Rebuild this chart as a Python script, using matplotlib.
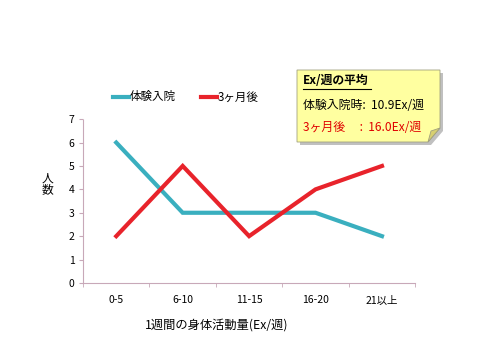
import matplotlib
matplotlib.use("Agg")
import matplotlib.pyplot as plt
from matplotlib.patches import Polygon
import numpy as np

plt.rcParams['font.family'] = ['Noto Sans CJK JP', 'DejaVu Sans']

categories = ['0-5', '6-10', '11-15', '16-20', '21以上']
taiken = [6, 3, 3, 3, 2]
after3 = [2, 5, 2, 4, 5]
series_names = ['体験入院', '3ヶ月後']
note_title = 'Ex/週の平均'
note_line1 = '体験入院時:  10.9Ex/週'
note_line2 = '3ヶ月後　 :  16.0Ex/週'

teal = '#3AAFBF'
red = '#E8232B'
axis_col = '#C8A8B8'

fig = plt.figure(figsize=(4.8, 3.6), dpi=100)
ax = fig.add_axes([0.173, 0.214, 0.692, 0.455])

x = np.arange(len(categories))
ax.plot(x, taiken, color=teal, lw=3.0, solid_joinstyle='miter')
ax.plot(x, after3, color=red, lw=3.0, solid_joinstyle='miter')

ax.set_xlim(-0.5, len(categories) - 0.5)
ax.set_ylim(0, 7)
ax.set_yticks(range(8))
ax.set_xticks(x)
ax.set_xticklabels(categories, fontsize=7.5)
ax.set_xticks(np.arange(-0.5, len(categories)), minor=True)
ax.tick_params(axis='x', which='major', length=0, pad=9)
ax.tick_params(axis='x', which='minor', length=3, color=axis_col)
ax.tick_params(axis='y', length=3, color=axis_col, labelsize=7.5, pad=3)
for s in ['top', 'right']:
    ax.spines[s].set_visible(False)
for s in ['left', 'bottom']:
    ax.spines[s].set_color(axis_col)
    ax.spines[s].set_linestyle((0, (1, 1)))
    ax.spines[s].set_linewidth(0.8)

fig.text(0.098, 0.49, '人\n数', fontsize=8.5, ha='center', va='center', linespacing=0.9)
fig.text(0.302, 0.097, '1週間の身体活動量(Ex/週)', fontsize=8.8, ha='left', va='center')

# legend
fig.lines.append(plt.Line2D([0.236, 0.268], [0.731, 0.731], color=teal, lw=3.0, transform=fig.transFigure))
fig.text(0.270, 0.731, series_names[0], fontsize=8.3, ha='left', va='center')
fig.lines.append(plt.Line2D([0.418, 0.453], [0.731, 0.731], color=red, lw=3.0, transform=fig.transFigure))
fig.text(0.453, 0.731, series_names[1], fontsize=8.3, ha='left', va='center')

# note box with folded corner
W, H = 480.0, 360.0
def fpts(pts):
    return [(px / W, 1 - py / H) for px, py in pts]
box = [(297, 70), (440, 70), (440, 128), (428, 142), (297, 142)]
shadow = [(px + 3, py + 3) for px, py in box]
fig.patches.append(Polygon(fpts(shadow), closed=True, fc='#C0C0C0', ec='none', transform=fig.transFigure))
fig.patches.append(Polygon(fpts(box), closed=True, fc='#FFFFA0', ec='#A0A080', lw=0.6, transform=fig.transFigure))
fold = [(440, 128), (428, 142), (431, 131)]
fig.patches.append(Polygon(fpts(fold), closed=True, fc='#D8D070', ec='#A0A080', lw=0.6, transform=fig.transFigure))

fig.text(303 / W, 1 - 81 / H, note_title, fontsize=8.5, fontweight='bold', ha='left', va='center')
fig.lines.append(plt.Line2D([303 / W, 371 / W], [1 - 89 / H, 1 - 89 / H], color='black', lw=0.8, transform=fig.transFigure))
fig.text(303 / W, 1 - 105 / H, note_line1, fontsize=8.6, ha='left', va='center')
fig.text(303 / W, 1 - 127 / H, note_line2, fontsize=8.6, ha='left', va='center', color='#E00000')

fig.savefig('out.png', dpi=100)
